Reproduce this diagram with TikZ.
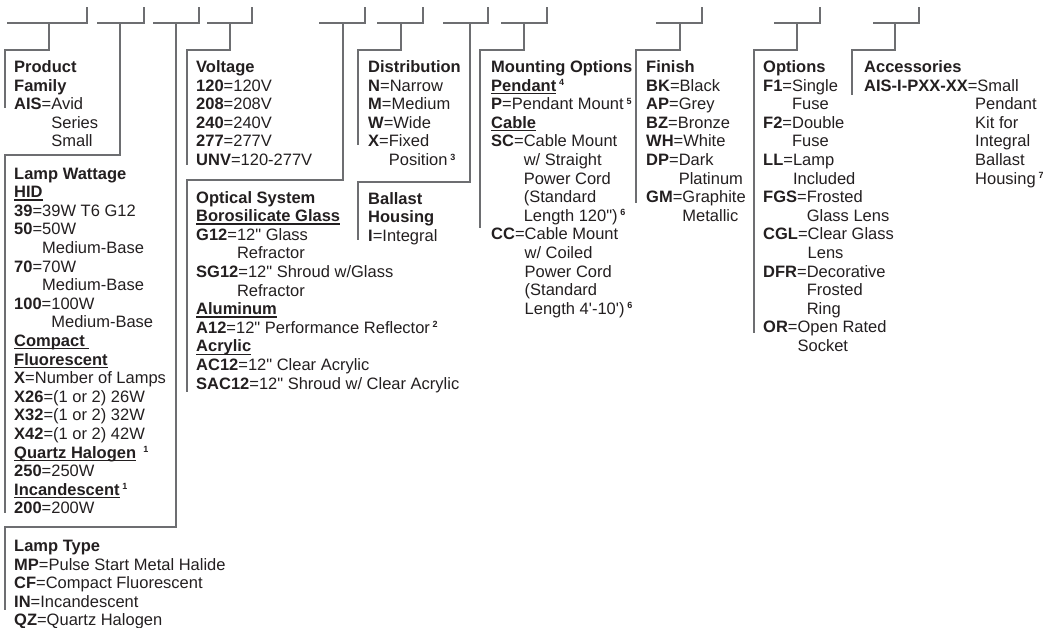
\documentclass[tikz,border=0pt]{standalone}
\usepackage{fontspec}
\defaultfontfeatures[\rmfamily,\sffamily]{}
\setmainfont{Liberation Sans}
\definecolor{txt}{HTML}{231F20}
\definecolor{lncol}{HTML}{6D6E71}
\newcommand\kw[1]{\textbf{#1}}
\newcommand\ind[1]{\phantom{\textbf{#1}=}}
\newcommand\sups[1]{\,\raisebox{5.5pt}{\fontsize{9}{9}\selectfont\bfseries #1}}
\newcommand\ulx[1]{\setbox0\hbox{#1}\rlap{\rule[-3pt]{\wd0}{1.3pt}}\box0}
\newcommand\blk[1]{\begin{tabular}[t]{@{}l@{}}#1\end{tabular}}
\newcommand\accind{\hspace*{111pt}}
\tikzset{
  txtblock/.style={anchor=base west, inner sep=0pt, text=txt, font=\fontsize{16.5}{18.6}\selectfont},
  conn/.style={draw=lncol, line width=1.2pt}
}
\begin{document}
\begin{tikzpicture}[x=1pt,y=-1pt]
\useasboundingbox (0,0) rectangle (1043,627);
% slots and brackets
\foreach \a/\b/\d/\yb/\xl/\ye in {
  7/87/49/50/5/108,
  97/144/120/155/5/513,
  153/199/176/527/5/610,
  207/252/230/50/187/165,
  319/365/343/180/187/392,
  377/423/401/50/358/145,
  443/488/470/182/358/240,
  501/547/524/50/480/228,
  656/702/680/50/636/203,
  774/820/797/50/754/333,
  873/919/895/50/852/95}{
  \draw[conn] (\a,23) -- (\b,23) -- (\b,7);
  \draw[conn] (\d,23) |- (\xl,\yb) -- (\xl,\ye);
}
% column 1
\node[txtblock] (pf) at (14,72.5) {\blk{\textbf{Product}\\ \textbf{Family}\\ \kw{AIS}=Avid\\ \ind{AIS}Series\\ \ind{AIS}Small}};
\node[txtblock] (lw) at (14,179) {\blk{\textbf{Lamp Wattage}\\
\ulx{\textbf{HID}}\\
\kw{39}=39W T6 G12\\
\kw{50}=50W\\
\ind{50}Medium-Base\\
\kw{70}=70W\\
\ind{70}Medium-Base\\
\kw{100}=100W\\
\ind{100}Medium-Base\\
\ulx{\textbf{Compact\ }}\\
\ulx{\textbf{Fluorescent}}\\
\kw{X}=Number of Lamps\\
\kw{X26}=(1 or 2) 26W\\
\kw{X32}=(1 or 2) 32W\\
\kw{X42}=(1 or 2) 42W\\
\ulx{\textbf{Quartz Halogen}}\ \sups{1}\\
\kw{250}=250W\\
\ulx{\textbf{Incandescent}}\sups{1}\\
\kw{200}=200W}};
\node[txtblock] (lt) at (14,551.5) {\blk{\textbf{Lamp Type}\\
\kw{MP}=Pulse Start Metal Halide\\
\kw{CF}=Compact Fluorescent\\
\kw{IN}=Incandescent\\
\kw{QZ}=Quartz Halogen}};
% column 2
\node[txtblock] (vo) at (196,72.5) {\blk{\textbf{Voltage}\\ \kw{120}=120V\\ \kw{208}=208V\\ \kw{240}=240V\\ \kw{277}=277V\\ \kw{UNV}=120-277V}};
\node[txtblock] (os) at (196,203) {\blk{\textbf{Optical System}\\
\ulx{\textbf{Borosilicate Glass}}\\
\kw{G12}=12" Glass\\
\ind{G12}Refractor\\
\kw{SG12}=12" Shroud w/Glass\\
\ind{G12}Refractor\\
\ulx{\textbf{Aluminum}}\\
\kw{A12}=12" Performance Reflector\sups{2}\\
\ulx{\textbf{Acrylic}}\\
\kw{AC12}=12" Clear Acrylic\\
\kw{SAC12}=12" Shroud w/ Clear Acrylic}};
% column 3
\node[txtblock] (di) at (368,72.5) {\blk{\textbf{Distribution}\\ \kw{N}=Narrow\\ \kw{M}=Medium\\ \kw{W}=Wide\\ \kw{X}=Fixed\\ \ind{X}Position\sups{3}}};
\node[txtblock] (bh) at (368,204) {\blk{\textbf{Ballast}\\ \textbf{Housing}\\ \kw{I}=Integral}};
% column 4
\node[txtblock] (mo) at (491,72.5) {\blk{\textbf{Mounting Options}\\
\ulx{\textbf{Pendant}}\sups{4}\\
\kw{P}=Pendant Mount\sups{5}\\
\ulx{\textbf{Cable}}\\
\kw{SC}=Cable Mount\\
\ind{SC}w/ Straight\\
\ind{SC}Power Cord\\
\ind{SC}(Standard\\
\ind{SC}Length 120")\sups{6}\\
\kw{CC}=Cable Mount\\
\ind{CC}w/ Coiled\\
\ind{CC}Power Cord\\
\ind{CC}(Standard\\
\ind{CC}Length 4'-10')\sups{6}}};
% column 5
\node[txtblock] (fi) at (646,72.5) {\blk{\textbf{Finish}\\ \kw{BK}=Black\\ \kw{AP}=Grey\\ \kw{BZ}=Bronze\\ \kw{WH}=White\\ \kw{DP}=Dark\\ \ind{DP}Platinum\\ \kw{GM}=Graphite\\ \ind{GM}Metallic}};
% column 6
\node[txtblock] (op) at (763,72.5) {\blk{\textbf{Options}\\
\kw{F1}=Single\\ \ind{F1}Fuse\\
\kw{F2}=Double\\ \ind{F2}Fuse\\
\kw{LL}=Lamp\\ \ind{LL}Included\\
\kw{FGS}=Frosted\\ \ind{FGS}Glass Lens\\
\kw{CGL}=Clear Glass\\ \ind{CGL}Lens\\
\kw{DFR}=Decorative\\ \ind{DFR}Frosted\\ \ind{DFR}Ring\\
\kw{OR}=Open Rated\\ \ind{OR}Socket}};
% column 7
\node[txtblock] (ac) at (864,72.5) {\blk{\textbf{Accessories}\\
\kw{AIS-I-PXX-XX}=Small\\
\accind Pendant\\
\accind Kit for\\
\accind Integral\\
\accind Ballast\\
\accind Housing\sups{7}}};
\end{tikzpicture}
\end{document}
